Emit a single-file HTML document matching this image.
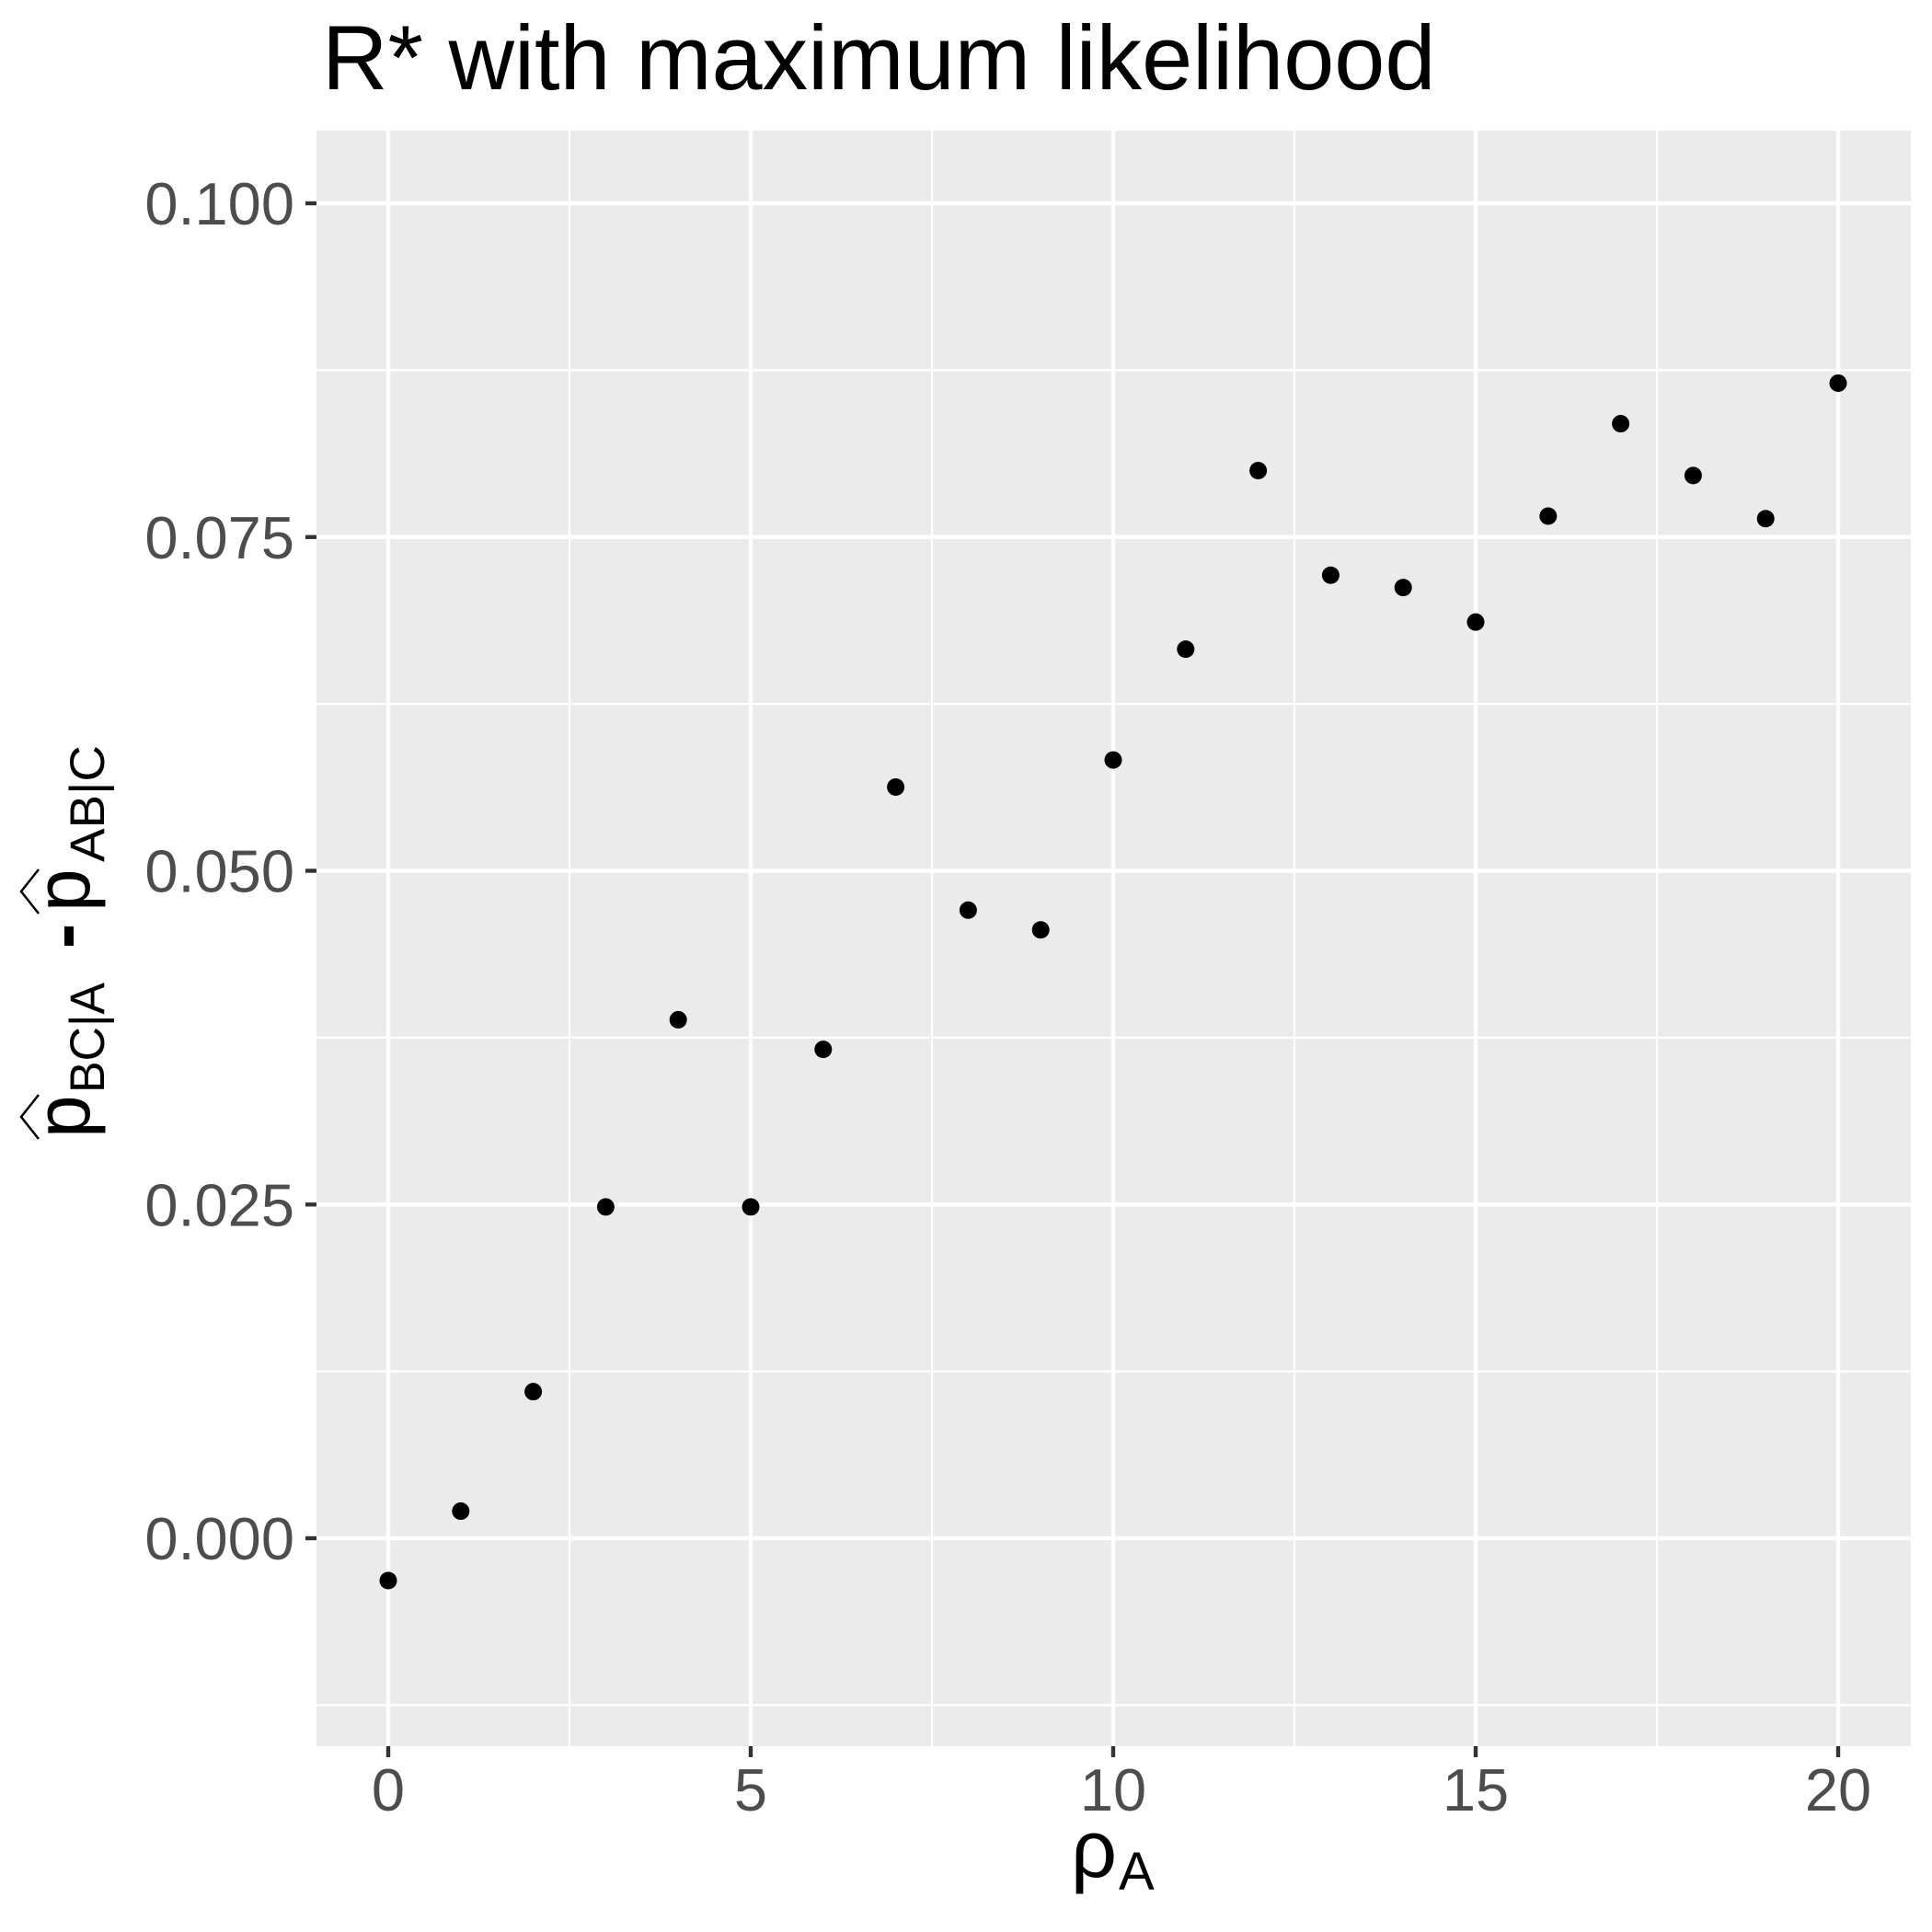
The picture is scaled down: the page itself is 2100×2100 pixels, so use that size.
<!DOCTYPE html>
<html><head><meta charset="utf-8"><style>
html,body{margin:0;padding:0;background:#fff;}
svg{display:block;font-family:"Liberation Sans",sans-serif;}
</style></head><body>
<svg id="chart" width="2100" height="2100" viewBox="0 0 2100 2100">
<text x="350" y="97" font-size="99" fill="#000">R* with maximum likelihood</text>
<rect x="344" y="142" width="1733" height="1756" fill="#ebebeb"/>
<g id="grid"></g>
<g id="yaxis"></g>
<g id="xaxis"></g>
<g id="points"></g>
<g transform="translate(0,1233) rotate(-90)">
  <text x="-4" y="97" font-size="84" fill="#000">p</text>
  <text x="45" y="113" font-size="53" fill="#000" textLength="120" lengthAdjust="spacingAndGlyphs">BC|A</text>
  <rect x="205" y="70" width="21" height="10" fill="#000"/>
  <text x="242" y="97" font-size="84" fill="#000">p</text>
  <text x="296" y="113" font-size="53" fill="#000" textLength="127" lengthAdjust="spacingAndGlyphs">AB|C</text>
  <polyline points="-5,42 19,23 43,42" fill="none" stroke="#000" stroke-width="2.5"/>
  <polyline points="240,42 264,23 288,42" fill="none" stroke="#000" stroke-width="2.5"/>
</g>
<g>
  <text x="1164" y="2040" font-size="88" fill="#000">ρ</text>
  <text x="1216" y="2054" font-size="58" fill="#000">A</text>
</g>
</svg>
<script>
const xValues = [0,1,2,3,4,5,6,7,8,9,10,11,12,13,14,15,16,17,18,19,20];
const yValues = [-0.00317,0.00203,0.01098,0.02482,0.03884,0.02482,0.03662,0.05627,0.04705,0.04557,0.0583,0.0666,0.07998,0.07214,0.07122,0.06863,0.07657,0.08349,0.07961,0.07638,0.08653];
const xTicks = [0,5,10,15,20];
const xTickLabels = ["0","5","10","15","20"];
const yTicks = [0,0.025,0.05,0.075,0.1];
const yTickLabels = ["0.000","0.025","0.050","0.075","0.100"];

const NS = "http://www.w3.org/2000/svg";
function xs(v){ return 422 + v*(1998-422)/20; }
function ys(v){ return 1672 - v*(1672-221)/0.1; }
function mk(tag, attrs, parent){
  const e = document.createElementNS(NS, tag);
  for (const k in attrs) e.setAttribute(k, attrs[k]);
  parent.appendChild(e);
  return e;
}
const grid = document.getElementById('grid');
const yaxis = document.getElementById('yaxis');
const xaxis = document.getElementById('xaxis');
const pts = document.getElementById('points');

for (let i = 0; i < xTicks.length - 1; i++) {
  const m = (xTicks[i] + xTicks[i+1]) / 2;
  const l = mk('line', {x1: xs(m), x2: xs(m), y1: 142, y2: 1898, stroke: '#fff', 'stroke-width': 2.2}, grid);
  
  
}
const ymin = [-0.0125].concat(yTicks.slice(0,-1).map((v,i)=> (v + yTicks[i+1]) / 2));
ymin.forEach(m => {
  const l = mk('line', {x1: 344, x2: 2077, y1: ys(m), y2: ys(m), stroke: '#fff', 'stroke-width': 2.2}, grid);
  
  
});
xTicks.forEach((v, i) => {
  const l = mk('line', {x1: xs(v), x2: xs(v), y1: 142, y2: 1898, stroke: '#fff', 'stroke-width': 4.4}, grid);
  
  
  const t = mk('line', {x1: xs(v), x2: xs(v), y1: 1898, y2: 1910, stroke: '#333', 'stroke-width': 4.4}, xaxis);
  
  
  const tx = mk('text', {x: xs(v), y: 1968, 'font-size': 65, fill: '#4d4d4d', 'text-anchor': 'middle'}, xaxis);
  tx.textContent = xTickLabels[i];
  
  
});
yTicks.forEach((v, i) => {
  const l = mk('line', {x1: 344, x2: 2077, y1: ys(v), y2: ys(v), stroke: '#fff', 'stroke-width': 4.4}, grid);
  
  
  const t = mk('line', {x1: 332, x2: 344, y1: ys(v), y2: ys(v), stroke: '#333', 'stroke-width': 4.4}, yaxis);
  
  
  const tx = mk('text', {x: 320, y: ys(v) + 23, 'font-size': 65, fill: '#4d4d4d', 'text-anchor': 'end'}, yaxis);
  tx.textContent = yTickLabels[i];
  
  
});
xValues.forEach((x, i) => {
  const c = mk('circle', {cx: xs(x), cy: ys(yValues[i]), r: 9.5, fill: '#000'}, pts);
  
  
});
</script>
</body></html>
